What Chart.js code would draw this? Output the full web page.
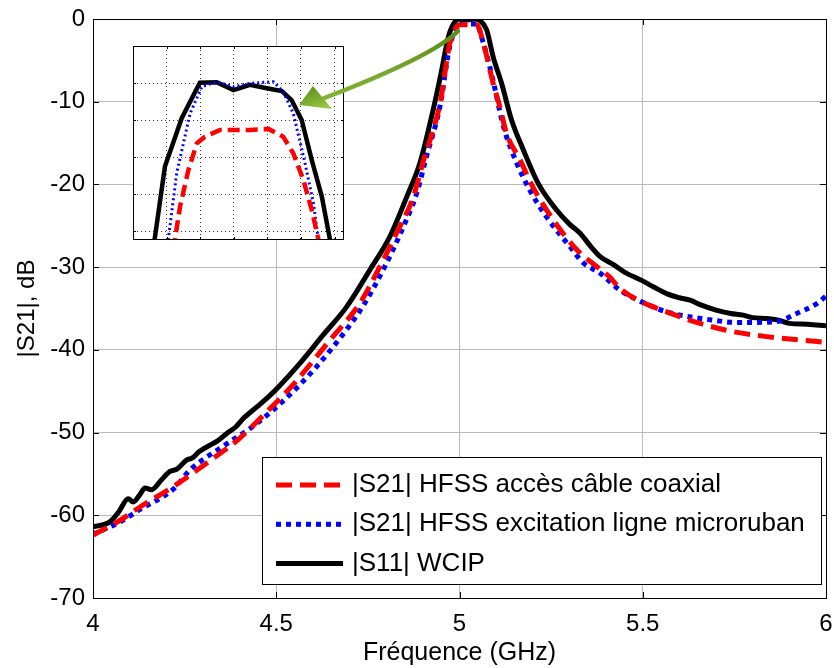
<!DOCTYPE html>
<html><head><meta charset="utf-8">
<script src="https://cdn.jsdelivr.net/npm/chart.js@4.4.1/dist/chart.umd.min.js"></script>
<style>
html,body{margin:0;padding:0;background:#fff;}
#wrap{position:relative;width:834px;height:668px;}
#main{position:absolute;left:0;top:0;}
#inset{position:absolute;left:133px;top:46px;}
</style></head><body>
<div id="wrap"><canvas id="main" width="834" height="668"></canvas><canvas id="inset" width="211" height="194"></canvas></div>
<script>
const FONT = "'Liberation Sans', Arial, sans-serif";

// ---- labels ----
const xTickLabels = ['4', '4.5', '5', '5.5', '6'];
const xAxisTitle = 'Fréquence (GHz)';
const yAxisTitle = '|S21|, dB';
const seriesLabels = ['|S21| HFSS accès câble coaxial', '|S21| HFSS excitation ligne microruban', '|S11| WCIP'];

// ---- main series (GHz, dB) ----
const freqCoax = [4.0,4.074,4.128,4.22,4.31,4.40,4.474,4.538,4.647,4.729,4.783,4.828,4.874,4.90,4.947,4.974,5.001,5.047,5.065,5.092,5.11,5.128,5.165,5.20,5.256,5.32,5.374,5.41,5.438,5.497,5.565,5.656,5.747,5.838,5.929,6.0];
const s21Coax  = [-62.4,-60.6,-59.0,-56.5,-53.7,-50.7,-47.5,-44.6,-38.8,-34.3,-29.9,-25.9,-21.5,-17.4,-10.2,-2.9,-0.7,-0.7,-2.9,-7.8,-10.6,-13.8,-17.0,-20.3,-24.3,-27.9,-29.9,-31.2,-32.6,-34.2,-35.4,-36.8,-37.8,-38.4,-38.8,-39.1];

const freqMicro = [4.0,4.074,4.128,4.22,4.265,4.35,4.447,4.556,4.656,4.738,4.792,4.847,4.883,4.91,4.947,4.974,5.005,5.045,5.065,5.092,5.12,5.156,5.192,5.237,5.301,5.338,5.383,5.438,5.497,5.565,5.674,5.765,5.864,5.92,5.975,6.0];
const s21Micro  = [-62.3,-60.8,-59.3,-56.8,-54.5,-51.8,-48.9,-44.6,-39.6,-34.6,-30.3,-25.1,-21.1,-16.6,-10.5,-3.2,-0.6,-0.6,-2.9,-7.5,-13.0,-17.4,-20.7,-23.9,-27.5,-29.5,-30.7,-32.8,-34.2,-35.4,-36.3,-36.7,-36.6,-35.6,-34.4,-33.5];

const freqWcip = [4.0,4.046,4.07,4.096,4.11,4.128,4.142,4.16,4.187,4.21,4.23,4.256,4.27,4.29,4.32,4.34,4.365,4.39,4.41,4.447,4.483,4.51,4.565,4.628,4.692,4.756,4.81,4.856,4.892,4.928,4.95,4.97,4.988,5.0,5.02,5.04,5.056,5.074,5.092,5.115,5.142,5.174,5.215,5.265,5.30,5.329,5.36,5.383,5.42,5.45,5.497,5.53,5.565,5.60,5.629,5.66,5.70,5.74,5.774,5.80,5.838,5.87,5.90,5.95,6.0];
const s11Wcip  = [-61.4,-60.8,-59.6,-58.0,-58.4,-57.5,-56.7,-56.9,-55.7,-54.7,-54.4,-53.3,-53.1,-52.3,-51.5,-51.0,-50.1,-49.3,-48.3,-46.9,-45.5,-44.3,-41.6,-38.2,-34.8,-30.3,-26.3,-21.5,-17.4,-11.0,-6.5,-2.1,-0.3,0,-0.1,0,-0.2,-1.3,-4.6,-7.8,-12.2,-15.8,-19.9,-23.1,-24.8,-25.9,-27.6,-28.7,-29.7,-30.6,-31.6,-32.4,-33.2,-33.7,-34.0,-34.6,-35.2,-35.6,-35.8,-36.1,-36.2,-36.4,-36.8,-36.9,-37.1];

// ---- inset (zoom on the peak) ----
const insetFreqCoax = [5.0020,5.0040,5.0065,5.0090,5.0114,5.0159,5.0248,5.0303,5.0347,5.0377,5.0407,5.0432,5.0459];
const insetCoax     = [-0.451,-0.334,-0.235,-0.163,-0.145,-0.127,-0.127,-0.124,-0.145,-0.190,-0.262,-0.343,-0.451];
const insetFreqMicro = [5.0001,5.0030,5.0070,5.0105,5.0149,5.0199,5.0248,5.0318,5.0347,5.0377,5.0412,5.0437,5.0456];
const insetMicro     = [-0.451,-0.244,-0.082,-0.010,0.0035,-0.010,-0.001,0.0035,-0.0235,-0.082,-0.217,-0.325,-0.451];
const insetFreqWcip = [4.9960,4.9995,5.0045,5.0099,5.0149,5.0199,5.0248,5.0298,5.0343,5.0372,5.0402,5.0432,5.0462,5.0492];
const insetWcip     = [-0.451,-0.226,-0.095,0.001,0.002,-0.019,-0.005,-0.014,-0.022,-0.046,-0.100,-0.208,-0.307,-0.451];
const insetXTicks = [5.00,5.01,5.02,5.03,5.04,5.05];
const insetYTicks = [0,-0.1,-0.2,-0.3,-0.4];

const pts = (xs, ys) => xs.map((x, i) => ({x, y: ys[i]}));

const seriesStyles = [
  {borderColor: '#ff0000', borderWidth: 5, borderDash: [16, 8]},
  {borderColor: '#0000ff', borderWidth: 5, borderDash: [5, 5]},
  {borderColor: '#000000', borderWidth: 5, borderDash: []}
];

function drawArrow(ctx, ox, oy) {
  ctx.save();
  ctx.translate(-ox, -oy);
  const g = ctx.createLinearGradient(330, 80, 340, 110);
  g.addColorStop(0, '#5d9018');
  g.addColorStop(1, '#a9d652');
  ctx.strokeStyle = g;
  ctx.lineWidth = 4.5;
  ctx.lineCap = 'round';
  ctx.beginPath();
  ctx.moveTo(458, 31);
  ctx.quadraticCurveTo(434, 56, 322, 99);
  ctx.stroke();
  ctx.fillStyle = g;
  ctx.beginPath();
  ctx.moveTo(299, 105);
  ctx.lineTo(313, 86);
  ctx.lineTo(332, 109);
  ctx.closePath();
  ctx.fill();
  ctx.restore();
}

const mainDecor = {
  id: 'mainDecor',
  beforeDraw(chart) {
    const ctx = chart.ctx;
    ctx.save();
    ctx.fillStyle = '#fff';
    ctx.fillRect(0, 0, chart.width, chart.height);
    ctx.restore();
  },
  afterDraw(chart) {
    const {ctx, chartArea: a, scales: {x, y}} = chart;
    ctx.save();
    ctx.strokeStyle = '#000';
    ctx.lineWidth = 1;
    ctx.beginPath();
    x.ticks.forEach(t => {
      const px = Math.round(x.getPixelForValue(t.value)) + 0.5;
      ctx.moveTo(px, a.bottom); ctx.lineTo(px, a.bottom - 6);
      ctx.moveTo(px, a.top); ctx.lineTo(px, a.top + 6);
    });
    y.ticks.forEach(t => {
      const py = Math.round(y.getPixelForValue(t.value)) + 0.5;
      ctx.moveTo(a.left, py); ctx.lineTo(a.left + 6, py);
      ctx.moveTo(a.right, py); ctx.lineTo(a.right - 6, py);
    });
    ctx.stroke();
    ctx.strokeRect(Math.round(a.left) + 0.5, Math.round(a.top) + 0.5, Math.round(a.right - a.left), Math.round(a.bottom - a.top));

    // legend box
    const lx = 262.5, ly = 457.5, lw = 559, lh = 127;
    ctx.fillStyle = '#fff';
    ctx.fillRect(lx, ly, lw, lh);
    ctx.strokeRect(lx, ly, lw, lh);
    ctx.font = '26px ' + FONT;
    ctx.textBaseline = 'middle';
    ctx.textAlign = 'left';
    chart.data.datasets.forEach((ds, i) => {
      const cy = 485 + i * 39.3;
      ctx.save();
      ctx.strokeStyle = ds.borderColor;
      ctx.lineWidth = ds.borderWidth;
      ctx.setLineDash(ds.borderDash || []);
      ctx.beginPath();
      ctx.moveTo(276, cy); ctx.lineTo(343, cy);
      ctx.stroke();
      ctx.restore();
      ctx.fillStyle = '#000';
      ctx.fillText(ds.label, 352, cy);
    });
    ctx.restore();
    drawArrow(ctx, 0, 0);
  }
};

new Chart(document.getElementById('main'), {
  type: 'line',
  data: {
    datasets: [
      Object.assign({label: seriesLabels[0], data: pts(freqCoax, s21Coax)}, seriesStyles[0]),
      Object.assign({label: seriesLabels[1], data: pts(freqMicro, s21Micro)}, seriesStyles[1]),
      Object.assign({label: seriesLabels[2], data: pts(freqWcip, s11Wcip)}, seriesStyles[2])
    ]
  },
  options: {
    responsive: false,
    animation: false,
    layout: {padding: {top: 19, right: 8, left: 0, bottom: 0}},
    elements: {point: {radius: 0}, line: {cubicInterpolationMode: 'monotone', fill: false}},
    plugins: {legend: {display: false}, tooltip: {enabled: false}},
    scales: {
      x: {
        type: 'linear', min: 4, max: 6,
        ticks: {stepSize: 0.5, color: '#000', font: {family: FONT, size: 24}, padding: 12, maxRotation: 0,
          callback: (v, i) => xTickLabels[i]},
        grid: {color: '#b9b9b9', lineWidth: 1, drawTicks: false},
        border: {display: false},
        title: {display: true, text: xAxisTitle, color: '#000', font: {family: FONT, size: 25}, padding: {top: 0, bottom: 0}},
        afterFit(s) { s.height = 70; s.paddingLeft = 0; s.paddingRight = 0; }
      },
      y: {
        type: 'linear', min: -70, max: 0,
        ticks: {stepSize: 10, color: '#000', font: {family: FONT, size: 24}, padding: 8},
        grid: {color: '#b9b9b9', lineWidth: 1, drawTicks: false},
        border: {display: false},
        title: {display: true, text: yAxisTitle, color: '#000', font: {family: FONT, size: 24}, padding: {top: 13, bottom: 0}},
        afterFit(s) { s.width = 93; s.paddingTop = 0; s.paddingBottom = 0; }
      }
    }
  },
  plugins: [mainDecor]
});

const insetDecor = {
  id: 'insetDecor',
  beforeDraw(chart) {
    const ctx = chart.ctx;
    ctx.save(); ctx.fillStyle = '#fff'; ctx.fillRect(0, 0, chart.width, chart.height); ctx.restore();
  },
  afterDraw(chart) {
    const {ctx, scales: {x, y}} = chart;
    ctx.save();
    ctx.strokeStyle = '#000';
    ctx.lineWidth = 1;
    ctx.beginPath();
    x.ticks.forEach(t => {
      const px = Math.round(x.getPixelForValue(t.value)) + 0.5;
      ctx.moveTo(px, chart.height); ctx.lineTo(px, chart.height - 3);
      ctx.moveTo(px, 0); ctx.lineTo(px, 3);
    });
    y.ticks.forEach(t => {
      const py = Math.round(y.getPixelForValue(t.value)) + 0.5;
      ctx.moveTo(0, py); ctx.lineTo(3, py);
      ctx.moveTo(chart.width, py); ctx.lineTo(chart.width - 3, py);
    });
    ctx.stroke();
    ctx.strokeRect(0.5, 0.5, chart.width - 1, chart.height - 1);
    ctx.restore();
    drawArrow(ctx, 133, 46);
  }
};

new Chart(document.getElementById('inset'), {
  type: 'line',
  data: {
    datasets: [
      {label: seriesLabels[0], data: pts(insetFreqCoax, insetCoax), borderColor: '#ff0000', borderWidth: 4.5, borderDash: [12, 6]},
      {label: seriesLabels[1], data: pts(insetFreqMicro, insetMicro), borderColor: '#0000ff', borderWidth: 3, borderDash: [2, 3]},
      {label: seriesLabels[2], data: pts(insetFreqWcip, insetWcip), borderColor: '#000000', borderWidth: 4.5}
    ]
  },
  options: {
    responsive: false,
    animation: false,
    layout: {padding: 0},
    elements: {point: {radius: 0}, line: {tension: 0, fill: false}},
    plugins: {legend: {display: false}, tooltip: {enabled: false}},
    scales: {
      x: {
        type: 'linear', min: 4.99, max: 5.0528,
        ticks: {display: false},
        grid: {color: '#333', lineWidth: 1, drawTicks: false},
        border: {display: false, dash: [1, 3]},
        afterBuildTicks(s) { s.ticks = insetXTicks.map(v => ({value: v})); },
        afterFit(s) { s.height = 0; }
      },
      y: {
        type: 'linear', min: -0.4243, max: 0.1,
        ticks: {display: false},
        grid: {color: '#333', lineWidth: 1, drawTicks: false},
        border: {display: false, dash: [1, 3]},
        afterBuildTicks(s) { s.ticks = insetYTicks.map(v => ({value: v})); },
        afterFit(s) { s.width = 0; }
      }
    }
  },
  plugins: [insetDecor]
});
</script>
</body></html>
